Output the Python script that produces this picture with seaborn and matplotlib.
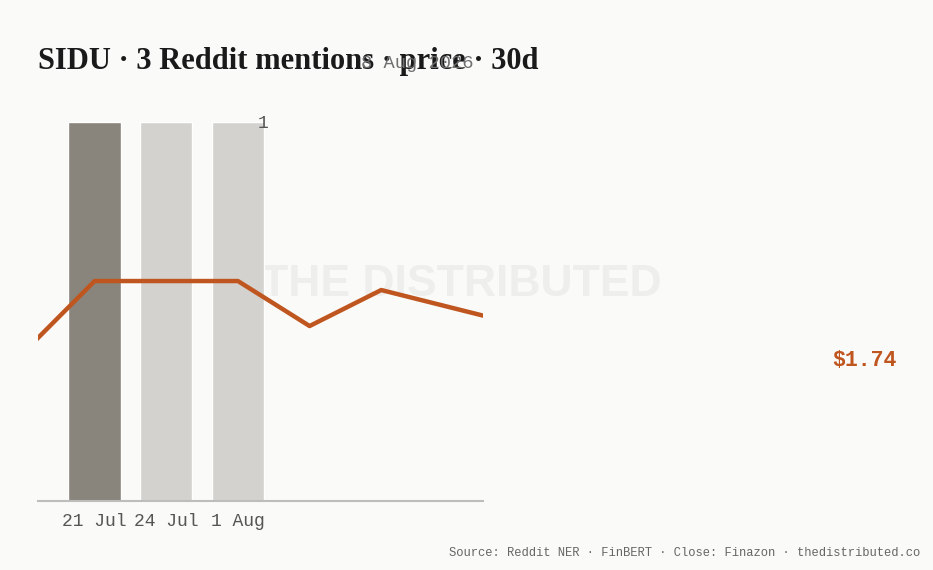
import matplotlib
matplotlib.use("Agg")
import matplotlib.pyplot as plt
import seaborn as sns
import pandas as pd
import numpy as np

# --- data ---
mention_dates = ["21 Jul", "24 Jul", "1 Aug"]
mention_counts = [1, 1, 1]
mention_highlight = [True, False, False]

price_pos = [-1, 0, 1, 2, 3, 4, 5, 6]
price_vals = [1.71, 1.79, 1.79, 1.79, 1.74, 1.78, 1.76, 1.74]
last_price_label = "$1.74"
hover_label = "8 Aug 2026"
title = "SIDU · 3 Reddit mentions · price · 30d"
source = "Source: Reddit NER · FinBERT · Close: Finazon · thedistributed.co"

BG = "#fafaf8"
DARK_BAR = "#8a857c"
LIGHT_BAR = "#d3d2ce"
ORANGE = "#c0561f"
MONO = ["Liberation Mono", "DejaVu Sans Mono"]
SERIF = ["Liberation Serif", "DejaVu Serif"]

sns.set_theme(style="white")
plt.rcParams["font.family"] = ["DejaVu Sans"]

fig = plt.figure(figsize=(9.33, 5.70), dpi=100, facecolor=BG)
W, H = 933, 570
ax = fig.add_axes([38 / W, 1 - 501 / H, (483 - 38) / W, (501 - 122) / H])
ax.set_facecolor("none")
fig.patch.set_facecolor(BG)

# watermark (beneath bars and line)
ax.text(461 / W, 1 - 284 / H, "THE DISTRIBUTED", fontsize=32, fontweight="bold",
        color="#eeeeec", ha="center", va="center", family=["Liberation Sans", "DejaVu Sans"],
        transform=fig.transFigure, zorder=0, clip_on=False)

df = pd.DataFrame({"date": mention_dates, "count": mention_counts})
palette = [DARK_BAR if h else LIGHT_BAR for h in mention_highlight]
sns.barplot(data=df, x="date", y="count", hue="date", palette=palette, legend=False,
            ax=ax, width=0.73, saturation=1, zorder=2)
ax.set_ylim(0, 1)
ax.set_xlim(-0.79, 5.42)
ax.set_xlabel("")
ax.set_ylabel("")
ax.set_yticks([])
for s in ["top", "right", "left"]:
    ax.spines[s].set_visible(False)
ax.spines["bottom"].set_color("#bdbdbb")
ax.spines["bottom"].set_linewidth(1.5)
ax.tick_params(axis="x", length=0, pad=9, labelsize=13, labelcolor="#555555")
for lbl in ax.get_xticklabels():
    lbl.set_family(MONO)
ax.text(2.35, 0.995, str(max(mention_counts)), fontsize=13, color="#555555",
        family=MONO, ha="center", va="center", zorder=4)

ax2 = ax.twinx()
ax2.set_xlim(-0.79, 5.42)
ax2.set_ylim(1.5456, 1.9667)
sns.lineplot(x=price_pos, y=price_vals, ax=ax2, color=ORANGE, linewidth=3.2, zorder=3)
ax2.set_yticks([])
ax2.axis("off")

fig.text(864 / W, 1 - 360 / H, last_price_label, fontsize=15.5, color=ORANGE,
         family=MONO, ha="center", va="center", fontweight="bold")
fig.text(38 / W, 1 - 61 / H, title, fontsize=22, fontweight="bold", color="#1a1a1a",
         family=SERIF, ha="left", va="center")
fig.text(417 / W, 1 - 63 / H, hover_label, fontsize=13.5, color="#707070",
         family=MONO, ha="center", va="center")
fig.text(920 / W, 1 - 553 / H, source, fontsize=8.7, color="#666666",
         family=MONO, ha="right", va="center")

fig.savefig("out.png", dpi=100, facecolor=BG)
